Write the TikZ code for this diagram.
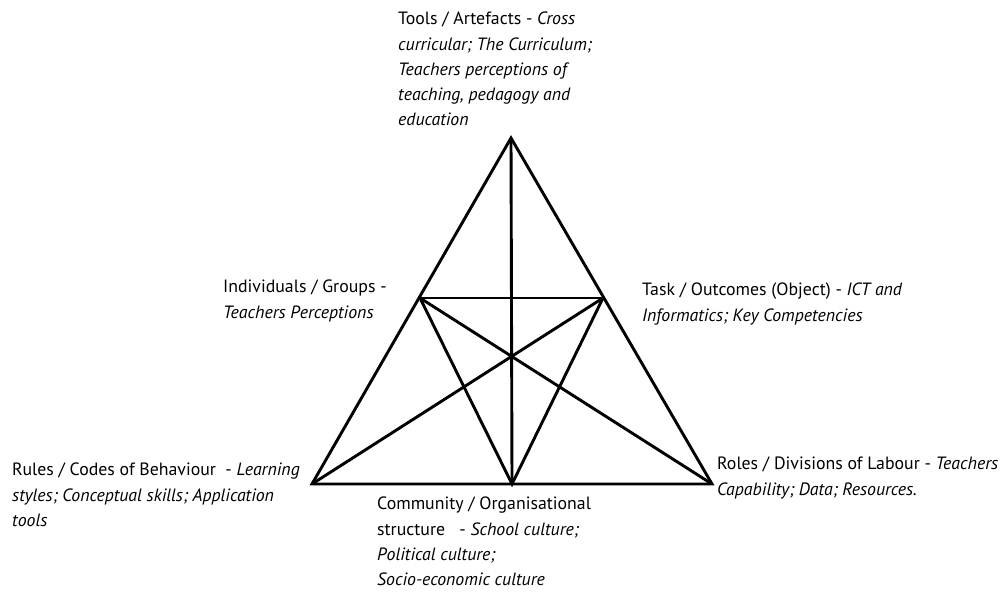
\documentclass[tikz,border=0pt]{standalone}
\usepackage{fontspec}
\setmainfont{PT Sans}
\begin{document}
\begin{tikzpicture}[x=1pt,y=-1pt,
    edge/.style={line width=2.9pt, line join=miter},
    lbl/.style={anchor=north west, inner sep=0pt, align=left, font=\fontsize{17.8}{25.2}\selectfont}]
  \useasboundingbox (0,0) rectangle (1008,594);
  % corners of the outer triangle and the inner points
  \coordinate (top) at (511,138);
  \coordinate (bl) at (312,484);
  \coordinate (br) at (712,484);
  \coordinate (bm) at (512,484);
  \coordinate (il) at (420,298);
  \coordinate (ir) at (603,298);
  \draw[edge] (top) -- (bl) -- (br) -- cycle;
  \draw[edge] (top) -- (bm);
  \draw[edge] (il) -- (ir);
  \draw[edge] (il) -- (br);
  \draw[edge] (ir) -- (bl);
  \draw[edge] (il) -- (bm) -- (ir);
  % labels
  \node[lbl] (tools) at (398,12) {Tools / Artefacts - \textit{Cross}\\\textit{curricular; The Curriculum;}\\\textit{Teachers perceptions of}\\\textit{teaching, pedagogy and}\\\textit{education}};
  \node[lbl] (indiv) at (223,280) {Individuals / Groups -\\\textit{Teachers Perceptions}};
  \node[lbl] (task) at (642,283) {Task / Outcomes (Object) - \textit{ICT and}\\\textit{Informatics; Key Competencies}};
  \node[lbl] (rules) at (12,463) {Rules / Codes of Behaviour~ - \textit{Learning}\\\textit{styles; Conceptual skills; Application}\\\textit{tools}};
  \node[lbl] (comm) at (377,497) {Community / Organisational\\structure~~ - \textit{School culture;}\\\textit{Political culture;}\\\textit{Socio-economic culture}};
  \node[lbl] (roles) at (717,457) {Roles / Divisions of Labour - \textit{Teachers}\\\textit{Capability; Data; Resources.}};
\end{tikzpicture}
\end{document}
